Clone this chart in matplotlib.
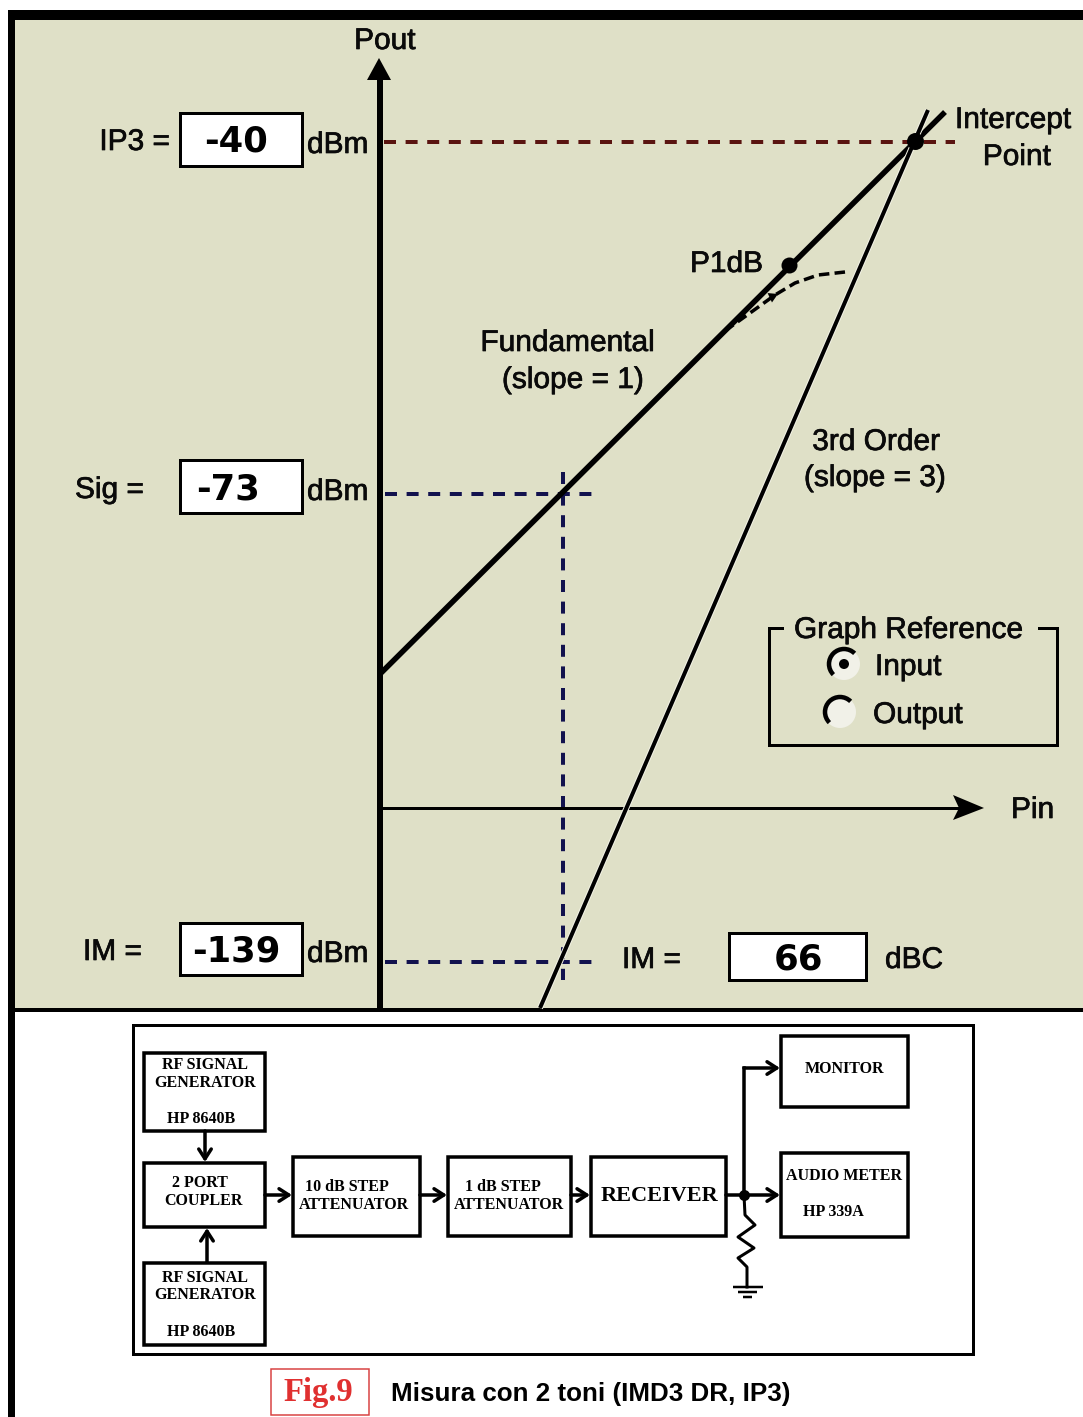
import matplotlib
matplotlib.use("Agg")
import matplotlib.pyplot as plt
from matplotlib.patches import Rectangle, Circle, Polygon, Arc
import matplotlib.patheffects as pe

OLIVE = "#dfe0c7"
SANS = "Liberation Sans"
SERIF = "Liberation Serif"

# everything is measured in picture pixels (x right, y down)
fundamental_x = [380, 945]
fundamental_y = [674, 112]
third_x = [540, 928]
third_y = [1008, 110]
p1db_curve_x = [845, 818, 795, 775, 750, 722]
p1db_curve_y = [272, 275, 283, 295, 313, 333]
intercept_pt = (915, 141)
p1db_pt = (789, 265)
curve_head = (772, 296)

red_dash_x = [384, 955]
red_dash_y = [142, 142]
blue_dash_h = [(385, 600, 494), (385, 595, 962)]
blue_dash_v = (563, 472, 980)

value_boxes = [(180, 113, 302, 166), (180, 460, 302, 513), (180, 923, 302, 975), (729, 933, 866, 980)]
value_text = ["-40", "-73", "-139", "66"]
value_pos = [(236, 142), (228, 489), (236, 952), (798, 960)]

labels = [
    ("Pout", 385, 41, "center"), ("IP3 =", 170, 142, "right"), ("dBm", 307, 145, "left"),
    ("Sig =", 75, 490, "left"), ("dBm", 307, 492, "left"), ("IM =", 83, 952, "left"),
    ("dBm", 307, 954, "left"), ("IM =", 622, 960, "left"), ("dBC", 885, 960, "left"),
    ("Intercept", 955, 120, "left"), ("Point", 1017, 157, "center"), ("P1dB", 690, 264, "left"),
    ("Fundamental", 568, 343, "center"), ("(slope = 1)", 573, 380, "center"),
    ("3rd Order", 876, 442, "center"), ("(slope = 3)", 875, 478, "center"),
    ("Graph Reference", 794, 630, "left"), ("Input", 875, 667, "left"),
    ("Output", 873, 715, "left"), ("Pin", 1011, 810, "left"),
]

group_left_x = [782, 769, 769, 1057, 1057, 1039]
group_left_y = [628, 628, 745, 745, 628, 628]
radio_pos = [(844, 664), (840, 712)]

# block diagram
blocks = [
    (144, 1053, 265, 1131), (144, 1163, 265, 1227), (144, 1263, 265, 1345),
    (293, 1157, 420, 1236), (448, 1157, 571, 1236), (591, 1157, 726, 1236),
    (781, 1036, 908, 1107), (781, 1153, 908, 1237),
]
block_text = [
    ("RF SIGNAL", 205, 1065, 11.5), ("GENERATOR", 205, 1083, 11.5), ("HP 8640B", 201, 1119, 11.5),
    ("2 PORT", 200, 1183, 11.5), ("COUPLER", 203, 1201, 11.5),
    ("RF SIGNAL", 205, 1278, 11.5), ("GENERATOR", 205, 1295, 11.5), ("HP 8640B", 201, 1332, 11.5),
    ("10 dB STEP", 347, 1187, 11.5), ("ATTENUATOR", 354, 1205, 11.5),
    ("1 dB STEP", 503, 1187, 11.5), ("ATTENUATOR", 509, 1205, 11.5),
    ("RECEIVER", 659, 1196, 16), ("MONITOR", 844, 1069, 11.5),
    ("AUDIO METER", 844, 1176, 11.5), ("HP 339A", 833, 1212, 11.5),
]
arrows = [
    (205, 1131, 205, 1162), (207, 1262, 207, 1228), (265, 1195, 292, 1195),
    (420, 1195, 447, 1195), (571, 1195, 590, 1195), (726, 1195, 780, 1195),
    (744, 1068, 780, 1068),
]
resistor_x = [744, 745, 755, 738, 754, 738, 747, 747]
resistor_y = [1195, 1215, 1225, 1237, 1248, 1258, 1267, 1287]
ground_bars = [(733, 763, 1287), (738, 757, 1292), (743, 752, 1297)]


def px(w):
    return w * 0.72


fig = plt.figure(figsize=(10.83, 14.17), dpi=100, facecolor="white")
ax = fig.add_axes([0, 0, 1, 1])
ax.set_xlim(0, 1083)
ax.set_ylim(1417, 0)
ax.axis("off")

# frame and panel
ax.add_patch(Rectangle((15, 20), 1068, 988, fc=OLIVE, ec="none"))
ax.add_patch(Rectangle((8, 10), 1075, 10, fc="black", ec="none"))
ax.add_patch(Rectangle((8, 10), 7, 1407, fc="black", ec="none"))
ax.add_patch(Rectangle((8, 1008), 1075, 4, fc="black", ec="none"))

# dashed guides
dash = dict(lw=px(4), dashes=(3, 2.4), dash_capstyle="butt")
ax.plot(red_dash_x, red_dash_y, color="#5a1410", **dash)
for x0, x1, y in blue_dash_h:
    ax.plot([x0, x1], [y, y], color="#12124e", **dash)
ax.plot([blue_dash_v[0]] * 2, blue_dash_v[1:], color="#12124e", **dash)

# axes with arrow heads
ax.plot([380, 380], [1008, 78], color="black", lw=px(6), solid_capstyle="butt")
ax.add_patch(Polygon([(379, 58), (391, 80), (367, 80)], fc="black", ec="none"))
ax.plot([380, 960], [808, 808], color="black", lw=px(3), solid_capstyle="butt")
ax.add_patch(Polygon([(953, 795), (984, 808), (953, 820), (959, 808)], fc="black", ec="none"))

# response lines
ax.plot(fundamental_x, fundamental_y, color="black", lw=px(5.5), solid_capstyle="butt")
ax.plot(third_x, third_y, color="black", lw=px(4), solid_capstyle="butt",
        path_effects=[pe.Stroke(linewidth=px(6), foreground="#f3f3e6"), pe.Normal()])
ax.plot(p1db_curve_x, p1db_curve_y, color="black", lw=px(3.5), dashes=(3, 1.5), dash_capstyle="butt")
ax.plot([curve_head[0]], [curve_head[1]], marker=(3, 0, 55), color="black", ms=px(12), mew=0)
ax.plot([intercept_pt[0]], [intercept_pt[1]], "o", color="black", ms=px(17), mew=0)
ax.plot([p1db_pt[0]], [p1db_pt[1]], "o", color="black", ms=px(16), mew=0)

# value boxes
for (x0, y0, x1, y1), s, (tx, ty) in zip(value_boxes, value_text, value_pos):
    ax.add_patch(Rectangle((x0, y0), x1 - x0, y1 - y0, fc="white", ec="black", lw=px(3)))
    ax.text(tx, ty, s, family="DejaVu Sans", weight="bold", size=25.5, ha="center", va="center")

for s, x, y, ha in labels:
    ax.text(x, y, s, family=SANS, size=21.5, ha=ha, va="center", color="#0a0a0a",
            path_effects=[pe.withStroke(linewidth=0.5, foreground="#0a0a0a")])

# Graph Reference group
ax.plot(group_left_x, group_left_y, color="black", lw=px(3), solid_joinstyle="miter")
for i, (x, y) in enumerate(radio_pos):
    ax.add_patch(Circle((x, y), 16, fc="#f1f1e8", ec="none"))
    ax.add_patch(Arc((x, y), 30, 30, theta1=135, theta2=315, color="black", lw=px(4.5)))
    if i == 0:
        ax.add_patch(Circle((x, y), 5, fc="black", ec="none"))

# block diagram
ax.add_patch(Rectangle((133, 1025), 840, 329, fc="none", ec="black", lw=px(3)))
for x0, y0, x1, y1 in blocks:
    ax.add_patch(Rectangle((x0, y0), x1 - x0, y1 - y0, fc="white", ec="black", lw=px(3.5)))
for s, x, y, fs in block_text:
    ax.text(x, y, s, family=SERIF, weight="bold", size=fs, ha="center", va="center")
for x0, y0, x1, y1 in arrows:
    ax.annotate("", xy=(x1, y1), xytext=(x0, y0),
                arrowprops=dict(arrowstyle="->,head_length=0.7,head_width=0.45",
                                color="black", lw=px(3.5), shrinkA=0, shrinkB=0))
ax.plot([744, 744], [1195, 1068], color="black", lw=px(3.5))
ax.plot([744], [1195], "o", color="black", ms=px(11), mew=0)
ax.plot(resistor_x, resistor_y, color="black", lw=px(3))
for x0, x1, y in ground_bars:
    ax.plot([x0, x1], [y, y], color="black", lw=px(2.5), solid_capstyle="butt")

# caption
ax.add_patch(Rectangle((271, 1369), 98, 46, fc="white", ec="#d84040", lw=px(1.5)))
ax.text(318, 1392, "Fig.9", family=SERIF, weight="bold", size=23.5, color="#e03030", ha="center", va="center")
ax.text(391, 1394, "Misura con 2 toni (IMD3 DR, IP3)", family=SANS, weight="bold", size=18.7,
        ha="left", va="center")

fig.savefig("out.png", dpi=100)
